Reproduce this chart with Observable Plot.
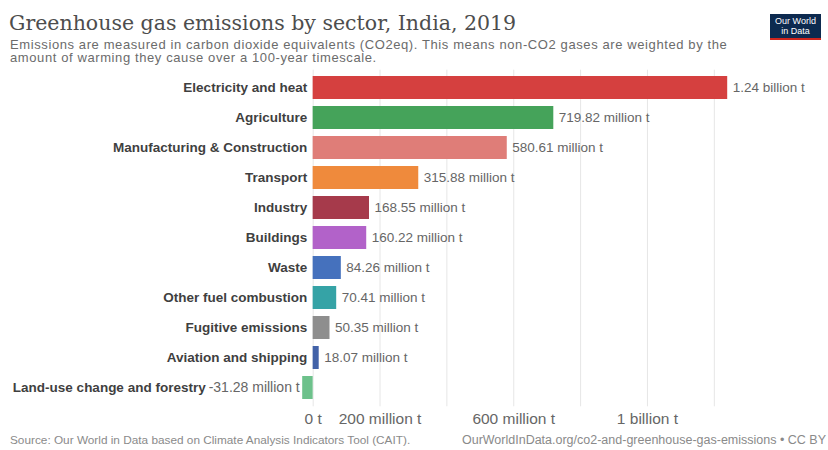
<!DOCTYPE html>
<html>
<head>
<meta charset="utf-8">
<script src="https://cdn.jsdelivr.net/npm/d3@7"></script>
<script src="https://cdn.jsdelivr.net/npm/@observablehq/plot@0.6"></script>
<style>
  html, body { margin: 0; padding: 0; background: #fff; }
  #wrap { position: relative; width: 828px; height: 450px; overflow: hidden; font-family: "Liberation Sans", Arial, sans-serif; }
  #title { position: absolute; left: 9px; top: 13px; font-family: "DejaVu Serif", serif; font-size: 20.5px; line-height: 21px; color: #4d4d4d; white-space: nowrap; }
  #subtitle { position: absolute; left: 10px; top: 38px; font-size: 13px; letter-spacing: 0.6px; line-height: 13px; color: #6b6b6b; width: 740px; }
  #logo { position: absolute; left: 770px; top: 14px; width: 51px; height: 26px; background: #0d2a4f; border-bottom: 2px solid #ce261e; color: #fff; font-size: 9px; line-height: 10px; text-align: center; padding-top: 2px; box-sizing: border-box; }
  #chart { position: absolute; left: 0; top: 65px; }
  #source { position: absolute; left: 10px; top: 433px; font-size: 11.8px; color: #8a8a8a; white-space: nowrap; }
  #url { position: absolute; right: 2px; top: 433px; font-size: 12.5px; color: #8a8a8a; white-space: nowrap; }
</style>
</head>
<body>
<div id="wrap">
  <div id="title">Greenhouse gas emissions by sector, India, 2019</div>
  <div id="subtitle">Emissions are measured in carbon dioxide equivalents (CO2eq). This means non-CO2 gases are weighted by the amount of warming they cause over a 100-year timescale.</div>
  <div id="logo">Our World<br>in Data</div>
  <div id="chart"></div>
  <div id="source">Source: Our World in Data based on Climate Analysis Indicators Tool (CAIT).</div>
  <div id="url">OurWorldInData.org/co2-and-greenhouse-gas-emissions • CC BY</div>
</div>
<script>
// Data (million tonnes CO2eq)
const sectors = [
  "Electricity and heat", "Agriculture", "Manufacturing & Construction", "Transport",
  "Industry", "Buildings", "Waste", "Other fuel combustion", "Fugitive emissions",
  "Aviation and shipping", "Land-use change and forestry"
];
const emissions = [1240, 719.82, 580.61, 315.88, 168.55, 160.22, 84.26, 70.41, 50.35, 18.07, -31.28];
const colors = [
  "#d5403f", "#45a35a", "#df7d78", "#ef8a3c", "#a63a4b", "#b262c9",
  "#4571bd", "#35a3a6", "#8e8e8e", "#4262a8", "#6dc18b"
];
const gridTicks = [0, 200, 400, 600, 800, 1000, 1200];
const axisTicks = [0, 200, 600, 1000];
const axisTickLabels = ["0 t", "200 million t", "600 million t", "1 billion t"];

const data = sectors.map((s, i) => ({sector: s, value: emissions[i], color: colors[i]}));
const fmt = v => Math.abs(v) >= 1000 ? (v / 1000).toFixed(2) + " billion t" : v.toFixed(2) + " million t";

const labelFont = "13.5px 'Liberation Sans'";
const ctx = document.createElement("canvas").getContext("2d");
ctx.font = labelFont;
const textW = s => ctx.measureText(s).width;

const pos = data.filter(d => d.value >= 0);
const neg = data.filter(d => d.value < 0);

const chart = Plot.plot({
  width: 828,
  height: 365,
  marginLeft: 302.2,
  marginRight: 100.8,
  marginTop: 4.7,
  marginBottom: 23.7,
  style: {fontFamily: "'Liberation Sans', Arial, sans-serif", background: "#fff"},
  x: {domain: [-31.28, 1240], nice: false},
  y: {domain: sectors, padding: 0.22, axis: null},
  color: {type: "identity"},
  marks: [
    Plot.ruleX(gridTicks, {stroke: "#e6e6e6", strokeWidth: 1}),
    Plot.barX(data, {x1: 0, x2: "value", y: "sector", fill: "color"}),
    Plot.text(pos, {x: "value", y: "sector", text: d => fmt(d.value), textAnchor: "start", dx: 5, fill: "#666", fontSize: 13.5}),
    Plot.text(neg, {x: "value", y: "sector", text: d => fmt(d.value), textAnchor: "end", dx: -3, fill: "#666", fontSize: 14}),
    Plot.text(pos, {x: 0, y: "sector", text: "sector", textAnchor: "end", dx: -6, fill: "#3f3f3f", fontSize: 13.5, fontWeight: "bold"}),
    ...neg.map(d => Plot.text([d], {x: "value", y: "sector", text: "sector", textAnchor: "end", dx: -3 - textW(fmt(d.value)) * 14 / 13.5 - 3, fill: "#3f3f3f", fontSize: 13.5, fontWeight: "bold"})),
    Plot.axisX(axisTicks, {tickSize: 0, tickPadding: 6, tickFormat: d => axisTickLabels[axisTicks.indexOf(d)], fontSize: 15.5, color: "#666", label: null})
  ]
});
document.getElementById("chart").appendChild(chart);
</script>
</body>
</html>
